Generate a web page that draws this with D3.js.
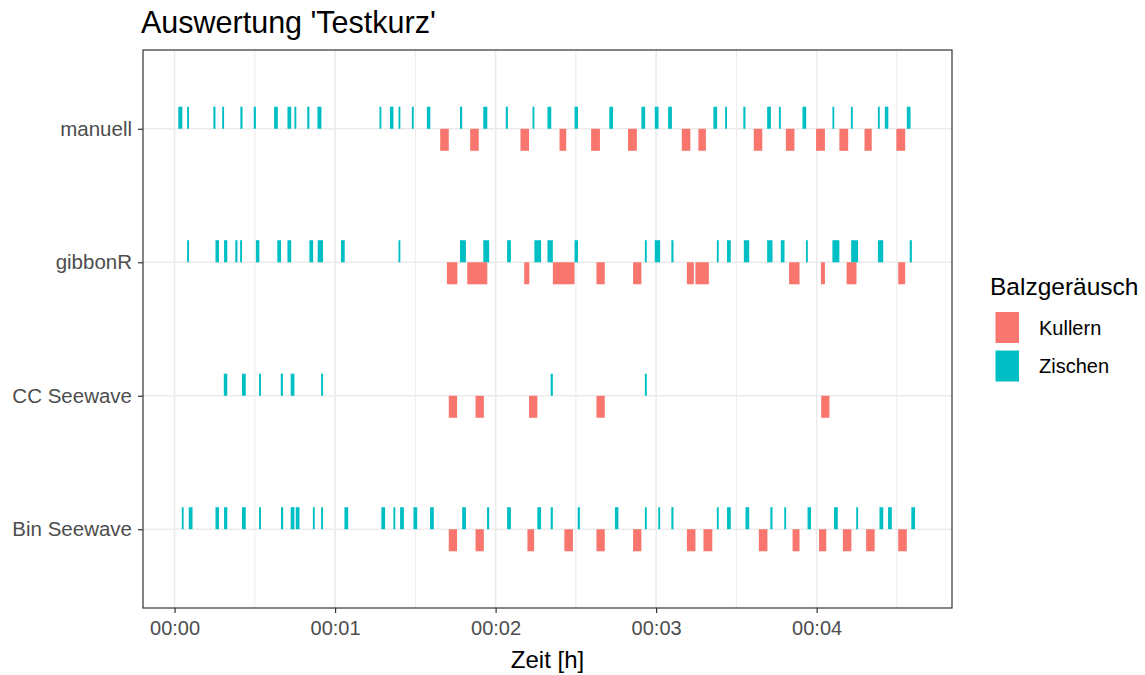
<!DOCTYPE html>
<html>
<head>
<meta charset="utf-8">
<script src="https://cdn.jsdelivr.net/npm/d3@7"></script>
<style>
   body { margin: 0; background: #fff; }
   svg { font-family: Arial, 'Liberation Sans', sans-serif; }
</style>
</head>
<body>
<svg id="chart" width="1145" height="675"></svg>
<script>

// CATEGORIES (TOP TO BOTTOM) AND SOUND TYPES
var methods = ['manuell', 'gibbonR', 'CC Seewave', 'Bin Seewave'];
var sounds = ['Kullern', 'Zischen'];
var colors = ['#F8766D', '#00BFC4'];

// TICKS IN SECONDS + LABELS
var tickSeconds = [0, 60, 120, 180, 240];
var tickLabels = ['00:00', '00:01', '00:02', '00:03', '00:04'];
var minorSeconds = [30, 90, 150, 210, 270];

// EVENTS [start, end] IN SECONDS
var manuellZischen = [[1.4,2.9],[4.7,5.4],[14.5,15.3],[17.8,18.5],[24.6,25.4],[29.6,30.4],[37.2,38.6],[42.2,43.6],[44.8,45.5],[49.6,50.4],[53.4,54.9],[76.6,77.3],[80.5,81.8],[83.7,84.4],[88.7,89.4],[94.3,95.6],[106.7,107.5],[115.4,116.9],[123.8,124.6],[133.8,134.5],[139.4,140.8],[149.5,150.8],[162.5,163.9],[174.5,175.9],[179.5,180.9],[184.5,185.9],[201.4,202.8],[205.8,206.5],[212.6,213.4],[221.5,222.9],[225.9,226.6],[234.7,236.1],[245.9,246.6],[252.8,253.5],[262.9,263.6],[265.5,266.8],[273.7,275.1]];
var manuellKullern = [[99.3,102.5],[110.5,113.7],[129.3,132.5],[143.9,146.4],[155.7,159.0],[169.5,172.8],[189.6,192.8],[195.8,198.6],[216.5,219.7],[228.5,231.7],[239.8,243.1],[248.5,251.8],[257.9,260.6],[269.8,273.1]];

var gibbonZischen = [[4.7,5.4],[15.3,16.6],[18.5,19.7],[22.7,23.5],[24.5,25.2],[30.4,31.7],[38.4,39.8],[42.2,43.6],[50.4,51.8],[53.5,55.5],[62.2,63.6],[83.7,84.4],[106.7,108.9],[115.4,117.6],[124.3,125.7],[134.5,137.0],[139.4,141.4],[149.5,150.8],[175.8,176.5],[179.5,181.5],[185.7,186.5],[202.7,203.4],[206.5,207.9],[212.8,214.8],[221.5,223.5],[226.6,228.0],[236.0,236.7],[245.9,248.5],[252.9,255.5],[262.9,264.9],[274.8,275.6]];
var gibbonKullern = [[101.8,105.7],[109.4,116.9],[130.7,132.6],[141.4,149.5],[157.7,160.8],[171.4,174.5],[191.5,194.1],[194.7,199.7],[229.7,233.6],[241.6,243.1],[251.2,254.9],[270.5,273.1]];

var ccZischen = [[18.4,19.7],[25.2,26.6],[31.6,32.3],[39.7,40.5],[43.4,44.8],[54.8,55.5],[140.6,141.4],[175.8,176.5]];
var ccKullern = [[102.5,105.6],[112.5,115.6],[132.5,135.6],[157.7,160.8],[241.7,244.8]];

var binZischen = [[2.7,3.4],[5.3,6.7],[15.3,16.6],[18.5,19.7],[25.2,26.6],[31.6,32.3],[39.8,40.6],[43.4,44.8],[45.3,46.7],[51.7,52.4],[54.8,55.5],[63.5,64.9],[77.3,78.7],[81.8,82.5],[84.3,85.7],[89.3,90.7],[95.5,96.9],[107.5,108.9],[116.8,117.6],[124.3,125.7],[135.6,137.0],[140.6,141.4],[150.7,151.5],[164.6,165.9],[175.8,176.5],[180.8,181.5],[185.7,186.5],[202.7,203.4],[206.5,207.9],[213.4,214.8],[222.7,223.5],[227.9,228.6],[236.6,237.9],[246.5,247.9],[254.8,255.5],[263.5,264.9],[266.7,268.1],[275.4,276.8]];
var binKullern = [[102.5,105.6],[112.5,115.6],[131.9,134.4],[145.7,148.9],[157.7,160.8],[171.4,174.5],[191.5,194.7],[197.7,201.0],[218.4,221.6],[231.0,233.6],[240.9,243.6],[249.8,253.0],[258.5,261.7],[270.5,273.7]];

// BUILD FLAT EVENT LIST FROM THE ARRAYS
var events = [];
[
   ['manuell', manuellZischen, manuellKullern],
   ['gibbonR', gibbonZischen, gibbonKullern],
   ['CC Seewave', ccZischen, ccKullern],
   ['Bin Seewave', binZischen, binKullern]
].forEach(row => {
   row[1].forEach(e => events.push({ method: row[0], type: 'Zischen', start: e[0], end: e[1] }));
   row[2].forEach(e => events.push({ method: row[0], type: 'Kullern', start: e[0], end: e[1] }));
});

// PANEL BOX
var panel = { left: 143, right: 952, top: 50, bottom: 608 };

var svg = d3.select('#chart');

// X-SCALING (SECONDS)
var xScale = d3.scaleLinear()
   .domain([-11.8, 290.6])
   .range([panel.left, panel.right])

// Y-SCALING
var yScale = d3.scalePoint()
   .domain(methods)
   .range([panel.top, panel.bottom])
   .padding(0.59)

var barH = yScale.step() * 0.165;

var color = d3.scaleOrdinal().domain(sounds).range(colors);

// GRID LINES
var grid = svg.append('g');

grid.selectAll('.minor')
   .data(minorSeconds)
   .enter().append('line')
      .attr('x1', d => xScale(d)).attr('x2', d => xScale(d))
      .attr('y1', panel.top).attr('y2', panel.bottom)
      .attr('stroke', '#ebebeb').attr('stroke-width', 1)

grid.selectAll('.majorx')
   .data(tickSeconds)
   .enter().append('line')
      .attr('x1', d => xScale(d)).attr('x2', d => xScale(d))
      .attr('y1', panel.top).attr('y2', panel.bottom)
      .attr('stroke', '#ebebeb').attr('stroke-width', 1.6)

grid.selectAll('.majory')
   .data(methods)
   .enter().append('line')
      .attr('x1', panel.left).attr('x2', panel.right)
      .attr('y1', d => yScale(d)).attr('y2', d => yScale(d))
      .attr('stroke', '#ebebeb').attr('stroke-width', 1.6)

// EVENT BARS
svg.append('g').selectAll('rect')
   .data(events)
   .enter().append('rect')
      .attr('x', d => xScale(d.start))
      .attr('width', d => xScale(d.end) - xScale(d.start))
      .attr('y', d => d.type === 'Zischen' ? yScale(d.method) - barH : yScale(d.method))
      .attr('height', barH)
      .attr('fill', d => color(d.type))

// PANEL BORDER
svg.append('rect')
   .attr('x', panel.left).attr('y', panel.top)
   .attr('width', panel.right - panel.left)
   .attr('height', panel.bottom - panel.top)
   .attr('fill', 'none')
   .attr('stroke', '#333333')
   .attr('stroke-width', 1.2)

// X-AXIS
var xAxis = d3.axisBottom(xScale)
   .tickValues(tickSeconds)
   .tickFormat((d, i) => tickLabels[i])
   .tickSize(5)
   .tickPadding(8)

var gx = svg.append('g')
   .attr('transform', 'translate(0,' + panel.bottom + ')')
   .call(xAxis)
gx.select('.domain').remove();
gx.selectAll('line').attr('stroke', '#333333').attr('stroke-width', 1.2);
gx.selectAll('text').attr('fill', '#4d4d4d').style('font-size', '20px');

// Y-AXIS
var yAxis = d3.axisLeft(yScale)
   .tickSize(5)
   .tickPadding(6)

var gy = svg.append('g')
   .attr('transform', 'translate(' + panel.left + ',0)')
   .call(yAxis)
gy.select('.domain').remove();
gy.selectAll('line').attr('stroke', '#333333').attr('stroke-width', 1.2);
gy.selectAll('text').attr('fill', '#4d4d4d').style('font-size', '20.5px');

// TITLES
svg.append('text')
   .attr('x', 141).attr('y', 33)
   .style('font-size', '30.5px')
   .attr('fill', '#000')
   .text("Auswertung 'Testkurz'")

svg.append('text')
   .attr('x', (panel.left + panel.right) / 2).attr('y', 668)
   .attr('text-anchor', 'middle')
   .style('font-size', '24px')
   .attr('fill', '#000')
   .text('Zeit [h]')

// LEGEND
var legend = svg.append('g').attr('transform', 'translate(990,0)');

legend.append('text')
   .attr('x', 0).attr('y', 295)
   .style('font-size', '24.5px')
   .text('Balzgeräusch')

var items = legend.selectAll('.item')
   .data(sounds)
   .enter().append('g')
      .attr('transform', (d, i) => 'translate(0,' + (312 + i * 38.5) + ')')

items.append('rect')
   .attr('x', 5.5).attr('y', 0)
   .attr('width', 23.5).attr('height', 31)
   .attr('fill', d => color(d))

items.append('text')
   .attr('x', 49).attr('y', 22.5)
   .style('font-size', '20px')
   .attr('fill', '#000')
   .text(d => d)

</script>
</body>
</html>
